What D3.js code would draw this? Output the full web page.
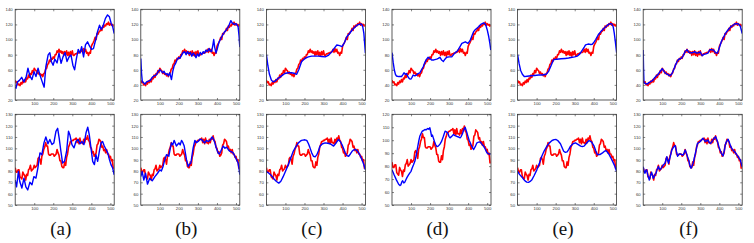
<!DOCTYPE html>
<html><head><meta charset="utf-8">
<script src="https://cdn.jsdelivr.net/npm/d3@7"></script>
<style>body{margin:0;background:#fff}svg{display:block}</style>
</head><body><svg id="c" width="754" height="243"></svg>
<script>
const panelLabels = ["(a)","(b)","(c)","(d)","(e)","(f)"];
const xTicks = [100,200,300,400,500];
const xDomain = [0,520];
const topYDomain = [20,140];
const topYTicks = [20,40,60,80,100,120,140];
const bottomYDomains = [[50,130],[50,130],[50,130],[50,120],[50,130],[50,130]];
const bottomYTicks = [50,60,70,80,90,100,110,120,130];

// ground-truth sample positions (red curves)
const truthX = [0,5,10,15,20,25,30,35,40,45,50,55,60,65,70,75,80,85,90,95,
  100,105,110,115,120,125,130,135,140,145,150,155,160,165,170,175,180,185,190,195,
  200,205,210,215,220,225,230,235,240,245,250,255,260,265,270,275,280,285,290,295,
  300,305,310,315,320,325,330,335,340,345,350,355,360,365,370,375,380,385,390,395,
  400,405,410,415,420,425,430,435,440,445,450,455,460,465,470,475,480,485,490,495,
  500,505,510,515];
const topTruth = [46,43,44,40,41,39,43,41,45,43,
  47,44,49,48,53,50,55,54,59,56,
  62,60,59,55,57,54,55,52,54,51,
  55,56,61,62,67,68,73,71,75,74,
  77,75,80,80,85,83,87,83,85,82,
  84,79,84,80,85,79,83,78,84,80,
  85,79,79,81,81,82,82,83,83,84,
  87,83,88,84,87,82,83,79,83,82,
  91,94,96,99,103,100,108,107,110,111,
  115,112,118,116,119,118,121,120,123,119,
  121,119,120,117];
const bottomTruth = [83,79,79,81,81,75,74,73,79,77,
  76,72,77,76,81,82,85,80,81,82,
  85,83,84,85,91,92,90,86,93,95,
  99,101,105,102,102,95,94,94,95,95,
  95,93,94,95,99,96,94,89,89,84,
  83,83,88,85,92,95,101,103,106,106,
  107,107,108,108,109,105,108,104,109,105,
  105,104,108,105,109,108,111,107,106,101,
  100,96,97,93,94,96,103,104,108,107,
  106,101,102,98,99,96,99,95,95,92,
  93,89,90,82];

// estimated curves (blue), [sample, value]
const topEstA = [[0,38],[4,35.5],[12,44],[22,46],[34,50],[46,44],[57,50],[67,62],[77,52],[88,47],[99,57.5],[109,51],[120,62],[130,53],[142,44],[152,37],[161,64],[173,79.6],[182,82.6],[190,71],[199,66],[208,74],[220,69],[230,82],[241,68.5],[251,77],[262,82.6],[272,71],[283,77],[293,79.6],[303,66],[312,60],[321,74],[331,87],[340,82],[349,90.6],[359,77],[369,93],[380,97],[390,91.5],[401,87],[411,88],[422,99],[432,110],[443,119],[452,113.5],[460,117],[474,128],[485,132.5],[495,130],[504,121.5],[512,117],[520,108]];
const topEstB = [[0,75],[4,55],[8,44],[15,43],[22,41],[30,44],[40,45],[50,46],[60,50],[70,52],[80,53],[90,57],[100,60],[108,58],[115,56],[122,58],[130,54],[138,55],[145,52],[152,56],[161,47],[168,58],[175,65],[182,68],[190,73],[198,76],[205,75],[212,78],[220,82],[230,84],[238,80],[245,84],[252,81],[260,83],[268,78],[275,82],[282,80],[290,76],[297,81],[305,78],[312,83],[320,80],[328,84],[335,82],[342,86],[350,84],[358,88],[365,85],[372,84],[378,92],[383,100],[388,90],[395,82],[402,88],[410,96],[420,101],[430,106],[440,110],[450,113],[460,117],[468,122],[473,125],[480,122],[490,120],[500,121],[506,119],[511,117],[516,105],[520,90]];
const topEstC = [[0,80],[8,65],[16,54],[26,46.5],[35,44],[45,45],[62,48.7],[80,52],[97,55],[115,56],[132,56],[150,55],[159,54],[170,60],[185,71],[203,75],[220,77],[238,78],[255,78],[273,78],[290,77.5],[309,77],[325,79],[344,84],[358,89],[370,92.8],[385,92],[397,90.6],[410,96],[423,104],[437,108],[450,112.6],[463,116],[476,119],[486,120],[494,120.6],[500,120],[506,117],[512,108],[516,95],[520,82]];
const topEstD = [[0,82.6],[6,70],[12,60],[18,54],[23,51.8],[35,51],[50,51],[58,54],[63,56],[70,54],[76,55],[85,50],[92,48],[99,47.6],[105,50],[111,53],[120,52],[129,53],[137,55],[146,56],[155,60],[164,64],[173,70],[182,74],[190,76.5],[199,75],[208,73],[220,73],[235,74],[243,75],[252,76.5],[260,73],[270,71],[278,74],[287,76.5],[300,77],[314,77],[323,80],[332,82.6],[340,84],[349,87],[358,91],[367,95],[376,96],[385,97],[392,96],[399,95],[405,97],[411,99],[420,105],[429,110.5],[437,113],[446,115],[455,117],[462,119],[469,120.6],[475,121],[481,122],[488,121],[494,118],[500,113],[508,104],[514,95],[519,86]];
const topEstE = [[0,80],[8,68],[16,59],[25,54],[35,51],[50,51.5],[70,52],[90,52.5],[110,53],[130,53],[150,54],[162,57.5],[175,65],[188,73],[206,74],[228,74.5],[250,75],[268,75.5],[286,76.5],[300,77],[313,78],[327,81],[340,86],[350,90],[357,93],[370,94],[385,93.5],[392,93.7],[400,96],[410,100],[423,106],[437,110.5],[450,114],[463,117],[472,119],[481,120.6],[488,121],[495,120.6],[502,117],[508,108],[514,96],[520,82.6]];
const topEstF = [[0,86],[2,60],[4,43],[10,42],[20,41],[30,43],[40,44.5],[50,46],[60,49.5],[70,52],[80,54.5],[90,58],[100,61.5],[110,57.5],[120,55],[130,53.5],[140,52],[150,54.5],[160,60],[170,66.5],[180,72],[190,74.5],[200,75],[210,78.5],[220,84],[230,86.5],[240,83],[250,82.5],[260,82.5],[270,84],[280,82],[290,82.5],[300,83.5],[310,78.5],[320,80.5],[330,81],[340,82],[350,86.5],[360,86.5],[370,86],[380,82.5],[390,82],[400,89],[410,97],[420,102],[430,107],[440,111],[450,114],[460,117],[470,118.5],[480,120.5],[490,121],[500,120.5],[510,117.5],[516,112],[520,108]];

const bottomEstA = [[0,72],[7,66],[17,79.6],[24,70.7],[35,65],[46,73.7],[56,66],[66,63.3],[77,70],[88,67.8],[98,75],[109,73.7],[119,82.6],[130,96],[140,94.4],[151,104.8],[161,110],[172,104],[182,107.8],[193,103.3],[203,104.8],[214,115],[223,117.6],[231,109],[240,97.4],[249,87],[259,88.5],[270,97.4],[280,115],[287,112],[298,103.3],[309,100.4],[319,106],[330,107.8],[340,104],[351,106],[361,103.3],[372,113.7],[381,118.7],[389,112],[398,100.4],[407,88.5],[416,85.6],[424,94.4],[433,88.5],[442,97.4],[451,104.8],[459,106],[468,102],[477,99],[486,96],[495,90],[503,85.6],[512,82.6],[520,76.7]];
const bottomEstB = [[0,75],[7,79.6],[16,72],[25,78],[35,68.4],[47,73.7],[60,71.3],[74,75],[88,78],[100,81],[108,80],[117,84],[126,90],[135,94.4],[147,93],[155,100],[161,104.8],[168,103],[175,107],[187,102],[200,104.8],[207,103],[214,107],[221,105],[228,102],[240,90],[249,84],[256,86],[263,87],[270,95],[275,100.4],[284,107],[292,105],[301,106],[310,108],[319,107.8],[328,106],[336,104.8],[345,107],[354,106],[364,107],[375,110],[382,108],[389,104.8],[397,100],[406,96],[413,95],[420,97.4],[427,100],[433,102],[442,100],[450,101],[459,99],[468,97.4],[477,97],[485,96],[494,93],[503,90],[511,87],[516,82],[520,76.7]];
const bottomEstC = [[0,79.6],[13,78],[26,76],[40,73],[53,70.7],[65,69.3],[76,71],[88,75],[101,80],[115,85.6],[128,91.5],[141,97.4],[155,101.5],[168,104.8],[178,106.3],[185,107],[198,107.5],[212,107],[221,104],[229,100.4],[238,96],[247,93],[256,92.5],[265,94.4],[274,98],[282,102],[295,104],[309,104.8],[322,104.5],[335,104],[344,103],[353,102],[365,104.5],[379,107.8],[388,106],[397,103.3],[405,100],[414,96],[423,93.5],[432,93],[441,95],[450,97.4],[458,98.5],[467,99],[476,98],[485,96],[494,93],[502,90],[511,86],[520,81]];
const bottomEstD = [[0,77.2],[11,73.3],[23,69.4],[35,66],[42,65],[46,65.5],[52,68],[56,68.7],[62,67],[67,67.6],[73,69.5],[79,71.3],[86,73],[93,74.6],[100,76],[106,78.5],[113,81],[120,83.7],[127,88],[134,94],[140,99],[146,103],[152,105],[159,107],[166,107.5],[173,108.3],[180,108],[187,109],[193,108.5],[199,109.6],[204,106],[208,103],[212,104],[217,101.8],[223,99],[229,96.7],[236,95],[243,95.4],[252,97],[261,99.3],[270,103],[279,107],[286,106.5],[293,105.7],[299,103],[305,101.8],[314,103],[323,104.4],[331,103.5],[340,103],[349,102.5],[358,101.8],[364,103],[370,105],[377,108],[384,110],[391,107],[399,103],[405,100],[411,98],[420,95],[429,92.8],[437,95],[446,98],[455,98.5],[464,98.7],[472,97],[481,95.4],[490,93],[499,90.2],[508,89.5],[517,89]];
const bottomEstE = [[0,79.6],[10,77],[21,75],[30,73],[39,71.3],[48,70.2],[57,70],[66,70.8],[74,72],[87,76],[101,81],[114,86.5],[127,93],[140,97.8],[154,101.9],[167,104.8],[181,106.9],[192,107.7],[202,107.8],[213,106.5],[225,104],[234,100.5],[242,97.4],[251,96.4],[260,96.8],[269,99],[278,101.9],[291,104],[304,104.8],[317,103.5],[331,101.9],[340,101.6],[349,101.9],[362,104.5],[375,106.9],[389,105.5],[402,101.9],[410,98],[419,94.4],[432,94.5],[446,96],[455,97.2],[464,98],[472,96.5],[481,94.4],[490,91.5],[499,88.5],[510,84.5],[520,79.6]];
const bottomEstF = [[0,83.8],[5,80],[9,78],[14,80.5],[18,81],[25,76],[32,72],[38,76],[44,79],[49,76],[53,73.5],[60,76],[67,78],[73,81],[80,84],[84,82],[88,81],[97,83],[106,85.3],[115,87],[124,92.6],[129,89],[133,86.8],[141,92],[150,98.5],[159,101],[168,102.4],[175,97],[181,93],[188,95],[195,95],[202,94.5],[209,94],[215,96],[221,98.5],[230,94],[239,89.7],[245,85],[251,82.4],[256,84],[262,86.8],[268,91],[274,95.6],[280,100],[285,104.4],[292,105],[300,106],[307,107.5],[314,108.8],[320,107.5],[327,106],[333,106.5],[339,107.4],[347,105],[354,104.4],[361,106],[368,108],[374,109],[380,110.3],[386,108],[393,104.4],[400,100],[407,97],[413,95],[419,93.2],[426,98],[433,104.4],[440,106.5],[446,108],[453,105],[460,101.5],[467,99.5],[474,98],[480,97],[487,95.6],[493,94],[499,92.6],[505,91],[510,89.7],[516,86],[520,83.8]];

const topEst = [topEstA, topEstB, topEstC, topEstD, topEstE, topEstF];
const bottomEst = [bottomEstA, bottomEstB, bottomEstC, bottomEstD, bottomEstE, bottomEstF];

// ---------- layout ----------
const svg = d3.select("#c");
const PW = 99, colStep = 125.6, left0 = 15.2;
const rowBox = [{top: 9.3, bottom: 100}, {top: 114.3, bottom: 205}];
const x = d3.scaleLinear().domain(xDomain).range([0, PW]);
const truthTop = truthX.map((s, i) => [s, topTruth[i]]);
const truthBottom = truthX.map((s, i) => [s, bottomTruth[i]]);

function drawPanel(col, row, yDomain, yTicks, truth, est) {
  const box = rowBox[row];
  const ph = box.bottom - box.top;
  const g = svg.append("g").attr("transform", `translate(${left0 + col * colStep},${box.top})`);
  const y = d3.scaleLinear().domain(yDomain).range([ph, 0]);
  const id = `clip${col}_${row}`;
  g.append("clipPath").attr("id", id).append("rect").attr("width", PW).attr("height", ph);

  const fnt = "Liberation Sans, Arial, sans-serif";
  const styleAxis = a => {
    a.select(".domain").remove();
    a.selectAll("line").attr("stroke", "#333").attr("stroke-width", 0.6);
    a.selectAll("text").attr("font-size", 4.3).attr("font-family", fnt).attr("fill", "#333");
  };
  g.append("g").attr("transform", `translate(0,${ph})`)
    .call(d3.axisBottom(x).tickValues(xTicks).tickSize(-2).tickPadding(2).tickFormat(d3.format("d")))
    .call(styleAxis);
  g.append("g")
    .call(d3.axisTop(x).tickValues(xTicks).tickSize(-2).tickFormat(""))
    .call(styleAxis);
  g.append("g")
    .call(d3.axisLeft(y).tickValues(yTicks).tickSize(-2).tickPadding(2.5).tickFormat(d3.format("d")))
    .call(styleAxis);
  g.append("g").attr("transform", `translate(${PW},0)`)
    .call(d3.axisRight(y).tickValues(yTicks).tickSize(-2).tickFormat(""))
    .call(styleAxis);

  const line = d3.line().x(d => x(d[0])).y(d => y(d[1]));
  const lines = g.append("g").attr("clip-path", `url(#${id})`);
  lines.append("path").attr("d", line(truth)).attr("fill", "none")
    .attr("stroke", "#ff0000").attr("stroke-width", 1.6).attr("stroke-linejoin", "round");
  lines.append("path").attr("d", line(est)).attr("fill", "none")
    .attr("stroke", "#0000ff").attr("stroke-width", 1.4).attr("stroke-linejoin", "round");

  g.append("rect").attr("width", PW).attr("height", ph)
    .attr("fill", "none").attr("stroke", "#333").attr("stroke-width", 0.8);
}

panelLabels.forEach((lab, col) => {
  drawPanel(col, 0, topYDomain, topYTicks, truthTop, topEst[col]);
  const bd = bottomYDomains[col];
  drawPanel(col, 1, bd, bottomYTicks.filter(t => t >= bd[0] && t <= bd[1]), truthBottom, bottomEst[col]);
  svg.append("text")
    .attr("x", left0 + col * colStep + PW / 2 - 4)
    .attr("y", 234.5)
    .attr("text-anchor", "middle")
    .attr("font-family", "Liberation Serif, Times New Roman, serif")
    .attr("font-size", 19)
    .attr("fill", "#111")
    .text(lab);
});
</script>
</body></html>
